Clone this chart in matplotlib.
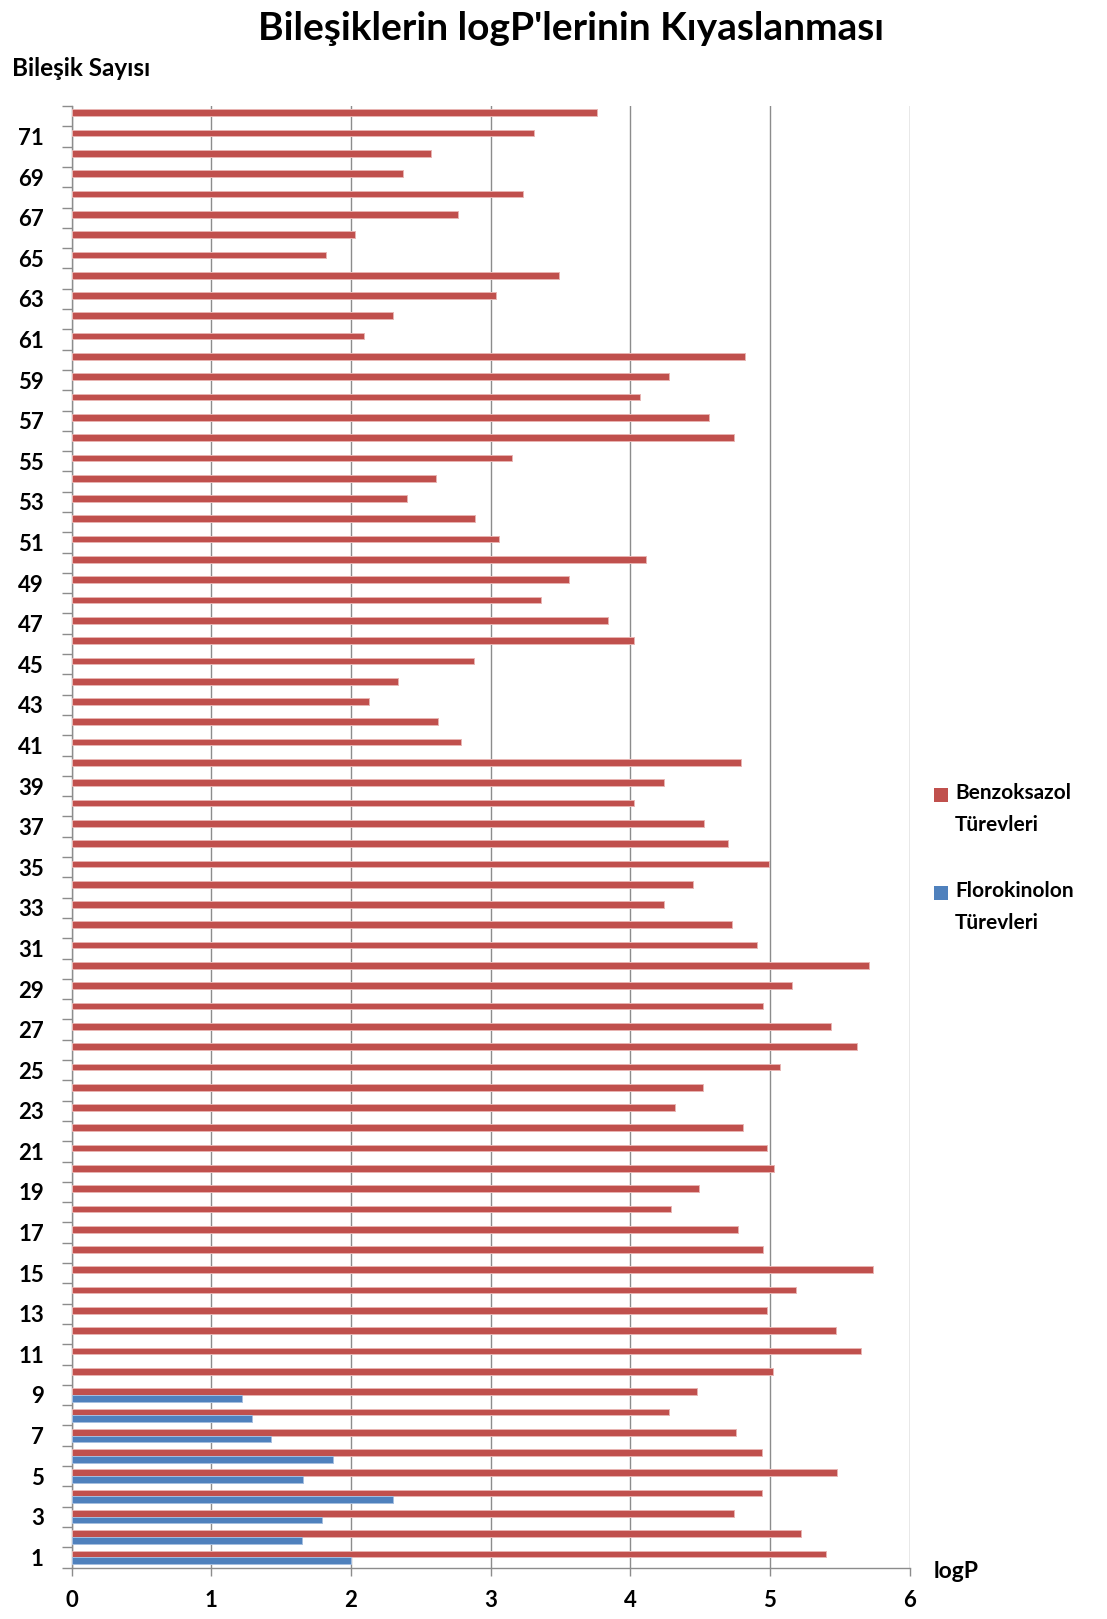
import matplotlib
matplotlib.use("Agg")
import matplotlib.pyplot as plt
import numpy as np
from matplotlib.patches import Rectangle

plt.rcParams['font.family'] = ['Lato', 'DejaVu Sans']

compounds = list(range(1, 73))
benzoksazol = [5.40, 5.22, 4.74, 4.94, 5.48, 4.94, 4.76, 4.28, 4.48, 5.02,
               5.65, 5.47, 4.98, 5.19, 5.74, 4.95, 4.77, 4.29, 4.49, 5.03,
               4.98, 4.81, 4.32, 4.52, 5.07, 5.62, 5.44, 4.95, 5.16, 5.71,
               4.91, 4.73, 4.24, 4.45, 4.99, 4.70, 4.53, 4.03, 4.24, 4.79,
               2.79, 2.62, 2.13, 2.34, 2.88, 4.03, 3.84, 3.36, 3.56, 4.11,
               3.06, 2.89, 2.40, 2.61, 3.15, 4.74, 4.56, 4.07, 4.28, 4.82,
               2.09, 2.30, 3.04, 3.49, 1.82, 2.03, 2.77, 3.23, 2.37, 2.57,
               3.31, 3.76]
florokinolon = [2.00, 1.65, 1.79, 2.30, 1.66, 1.87, 1.43, 1.29, 1.22]
flor_idx = list(range(1, 10))
ytick_labels = [str(i) for i in range(1, 73, 2)]
xticks = [0, 1, 2, 3, 4, 5, 6]

title = "Bileşiklerin logP'lerinin Kıyaslanması"
ylabel = "Bileşik Sayısı"
xlabel = "logP"
legend_labels = ["Benzoksazol\nTürevleri", "Florokinolon\nTürevleri"]

red = '#C0504D'
blue = '#4F81BD'
grid_c = '#8C8C8C'

W, H = 1107, 1619
fig = plt.figure(figsize=(W / 100, H / 100), dpi=100)
ax = fig.add_axes([0.0647, 0.0318, 0.8217 - 0.0647, 0.9345 - 0.0318])

bh = 0.33
ax.barh(np.array(compounds) + bh / 2, benzoksazol, height=bh, color=red,
        edgecolor='#E8B4B2', linewidth=0.7, zorder=3)
ax.barh(np.array(flor_idx) - bh / 2, florokinolon, height=bh, color=blue,
        edgecolor='#A5BEDF', linewidth=0.7, zorder=3)

ax.set_xlim(0, 6)
ax.set_ylim(0.5, 72.5)
ax.set_xticks(xticks)
ax.set_xticklabels([str(x) for x in xticks], fontsize=16, fontweight='bold')
ax.set_yticks(list(range(1, 73, 2)))
ax.set_yticklabels(ytick_labels, fontsize=16, fontweight='bold')
ax.set_yticks(np.arange(0.5, 73, 1), minor=True)
ax.tick_params(axis='y', which='major', length=0, pad=20)
ax.tick_params(axis='y', which='minor', length=7, color=grid_c, width=1)
ax.tick_params(axis='x', which='major', length=6, color=grid_c, width=1, pad=10)

ax.grid(axis='x', color=grid_c, linewidth=1, zorder=0)
ax.set_axisbelow(True)
for s in ['top', 'right']:
    ax.spines[s].set_visible(False)
for s in ['left', 'bottom']:
    ax.spines[s].set_color(grid_c)
    ax.spines[s].set_linewidth(1)

fig.text(571 / W, 1 - 28 / H, title, ha='center', va='center',
         fontsize=28, fontweight='bold')
fig.text(12 / W, 1 - 68 / H, ylabel, ha='left', va='center',
         fontsize=17.5, fontweight='bold')
fig.text(934 / W, 1 - 1571 / H, xlabel, ha='left', va='center',
         fontsize=16.5, fontweight='bold')

# legend drawn manually (square aligned with first text line, like Excel)
leg_items = [(red, 795, legend_labels[0]), (blue, 893, legend_labels[1])]
for col, yc, lab in leg_items:
    sq = 14
    fig.patches.append(Rectangle((934 / W, 1 - (yc + sq / 2) / H), sq / W, sq / H,
                                 transform=fig.transFigure, facecolor=col,
                                 edgecolor='none'))
    fig.text(955 / W, 1 - (yc - 12) / H, lab, ha='left', va='top',
             fontsize=15, fontweight='bold', linespacing=1.75)

fig.savefig('out.png', dpi=100)
